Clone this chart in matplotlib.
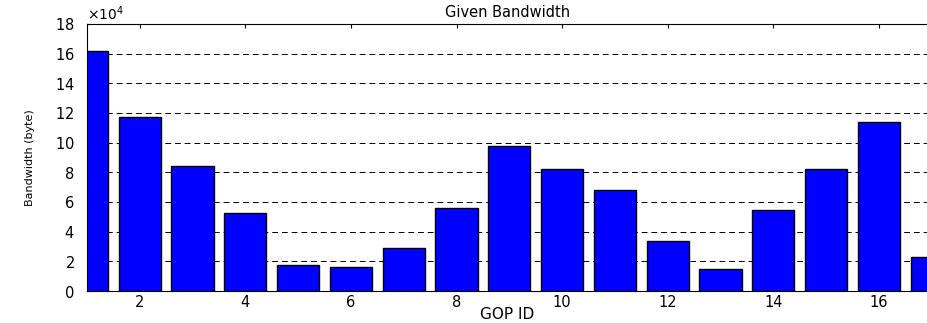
import matplotlib
matplotlib.use("Agg")
import matplotlib.pyplot as plt
from matplotlib.ticker import ScalarFormatter

# bandwidth given to each GOP (bytes)
gop_id = list(range(1, 18))
bandwidth = [16.2e4, 11.7e4, 8.45e4, 5.28e4, 1.75e4, 1.6e4, 2.92e4, 5.62e4, 9.8e4,
             8.2e4, 6.83e4, 3.39e4, 1.5e4, 5.46e4, 8.23e4, 11.4e4, 2.31e4]
y_ticks = [0, 2e4, 4e4, 6e4, 8e4, 10e4, 12e4, 14e4, 16e4, 18e4]
x_ticks = [2, 4, 6, 8, 10, 12, 14, 16]

plt.rcParams['font.family'] = ['DejaVu Sans']

fig = plt.figure(figsize=(9.28, 3.23), dpi=100)
ax = fig.add_axes([87 / 928, 1 - 291 / 323, 1 - 87 / 928, 267 / 323])

ax.bar(gop_id, bandwidth, width=0.8, color='#0000ff', edgecolor='black', linewidth=1.0, zorder=2)

ax.set_xlim(1.0, 16.93)
ax.set_ylim(0, 18e4)
ax.set_xticks(x_ticks)
ax.set_yticks(y_ticks)

fmt = ScalarFormatter(useMathText=True)
fmt.set_powerlimits((4, 4))
ax.yaxis.set_major_formatter(fmt)
ax.yaxis.get_offset_text().set_fontsize(10)

ax.grid(axis='y', linestyle=(0, (6, 4)), color='black', linewidth=0.7, zorder=1)
ax.set_axisbelow(True)

ax.spines['right'].set_visible(False)
for s in ['left', 'top', 'bottom']:
    ax.spines[s].set_linewidth(0.8)
ax.tick_params(axis='both', direction='in', length=3, labelsize=10.5, width=0.8)
ax.tick_params(axis='x', top=True, pad=3)
ax.tick_params(axis='y', right=False, pad=9)

ax.set_title('Given Bandwidth', fontsize=10.5, pad=5)
ax.set_xlabel('GOP ID', fontsize=11, labelpad=-2)
ax.set_ylabel('Bandwidth (byte)', fontsize=8, labelpad=14)

fig.savefig('out.png', dpi=100)
